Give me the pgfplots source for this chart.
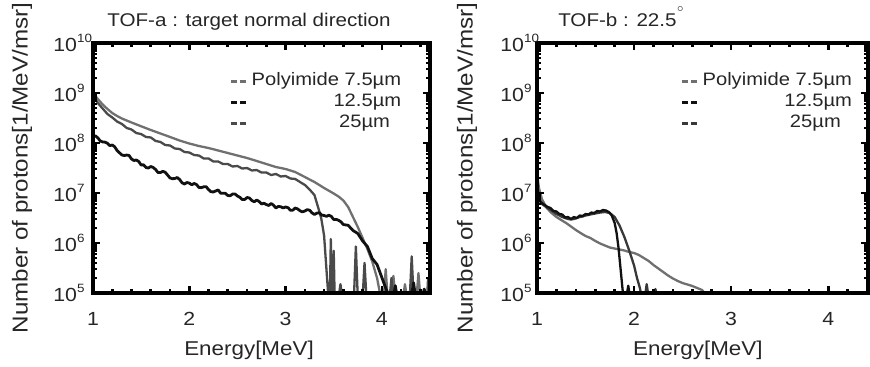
\documentclass[border=0pt]{standalone}
\usepackage{fontspec}
\setmainfont[FakeStretch=1.12]{Liberation Sans}
\usepackage{pgfplots}
\pgfplotsset{compat=1.18}
\definecolor{gA}{HTML}{707070}
\definecolor{gB}{HTML}{4A4A4A}
\definecolor{gC}{HTML}{111111}
\definecolor{gR}{HTML}{383838}
\definecolor{txt}{HTML}{262626}
\newcommand\tl[1]{10\raisebox{4.6pt}{\fontsize{6}{6}\selectfont #1}}
\pgfplotsset{
  myax/.style={
    scale only axis, height=125pt,
    ymin=1e5, ymax=1e10, xmin=1,
    axis on top, clip mode=individual,
    axis line style={line width=2pt, black},
    tick align=inside,
    major tick length=3.5pt, minor tick length=2pt,
    every tick/.style={black, line width=1.3pt},
    xtick={1,2,3,4}, xticklabels={1,2,3,4},
    minor xtick={1.2,1.4,1.6,1.8,2.2,2.4,2.6,2.8,3.2,3.4,3.6,3.8,4.2,4.4},
    ytick={1e5,1e6,1e7,1e8,1e9,1e10},
    yticklabels={\tl{5},\tl{6},\tl{7},\tl{8},\tl{9},\tl{10}},
    xticklabel style={font=\fontsize{9.5}{10}\selectfont, text=txt, yshift=-6pt},
    yticklabel style={font=\fontsize{9.5}{10}\selectfont, text=txt, anchor=west, inner sep=0pt},
    xlabel={Energy[MeV]},
    ylabel={Number of protons[1/MeV/msr]},
    xlabel style={font=\fontsize{10}{11}\selectfont, text=txt, anchor=base},
    ylabel style={font=\fontsize{10.8}{12}\selectfont, text=txt, anchor=center},
    legend cell align=right,
    legend style={draw=none, fill=none, anchor=north west, font=\fontsize{9}{10}\selectfont, text=txt,
      row sep=0.3pt, inner sep=0pt, nodes={inner sep=0.6pt, text height=6.6pt, text depth=2.4pt}},
    every axis plot/.append style={line width=1.15pt, line join=round},
  }
}
\pgfplotsset{legend image code/.code={\draw[#1, line width=1.4pt, dash pattern=on 3pt off 1.6pt] (0pt,0pt) -- (7.6pt,0pt);}}
\begin{document}
\begin{tikzpicture}
\useasboundingbox (0,0) rectangle (435pt,183pt);
% ---------------- left panel ----------------
\begin{semilogyaxis}[myax, at={(46.5pt,36.5pt)}, anchor=south west, width=168.5pt, xmax=4.5,
  yticklabel style={xshift=-20pt},
  xlabel style={at={(axis description cs:0.463,0)}, yshift=-31pt},
  ylabel style={at={(axis description cs:-0.2107,0.5)}},
  legend style={at={(rel axis cs:0.404,0.89)}},
]
\addlegendimage{gA}\addlegendentry{\,Polyimide 7.5µm}
\addlegendimage{gC}\addlegendentry{12.5µm}
\addlegendimage{gB}\addlegendentry{25µm\hphantom{5}}
% 7.5 um
\addplot[gA, forget plot] coordinates {
(1.00,1.0e9)(1.05,7.59e8)(1.10,5.89e8)(1.15,4.79e8)(1.20,3.98e8)(1.25,3.47e8)(1.30,3.09e8)
(1.40,2.57e8)(1.50,2.16e8)(1.60,1.82e8)(1.70,1.55e8)(1.80,1.32e8)(1.90,1.12e8)(2.00,9.77e7)
(2.10,8.71e7)(2.20,7.94e7)(2.30,7.08e7)(2.40,6.31e7)(2.50,5.62e7)(2.60,5.01e7)(2.70,4.37e7)
(2.80,3.80e7)(2.90,3.31e7)(3.00,3.02e7)(3.10,2.63e7)(3.20,2.09e7)(3.30,1.66e7)(3.40,1.26e7)
(3.50,9.77e6)(3.55,8.51e6)(3.60,7.08e6)(3.65,5.25e6)(3.70,3.31e6)(3.75,2.09e6)(3.80,1.26e6)
(3.85,7.59e5)(3.90,4.27e5)(3.95,2.00e5)(3.98,1.0e5)(4.00,8e4)(4.02,8e4)(4.04,3e5)(4.06,8e4)
(4.10,8e4)(4.12,2.2e5)(4.14,8e4)(4.22,8e4)(4.24,1.5e5)(4.26,8e4)(4.36,8e4)(4.38,2.5e5)(4.40,8e4)(4.50,8e4)
};
% 25 um
\addplot[gB, forget plot] coordinates {
(1.00,8.91e8)(1.05,6.31e8)(1.10,4.90e8)(1.15,3.80e8)(1.20,3.24e8)(1.25,2.69e8)(1.30,2.40e8)
(1.35,2.00e8)(1.40,1.86e8)(1.45,1.58e8)(1.50,1.51e8)(1.55,1.32e8)(1.60,1.29e8)(1.65,1.10e8)
(1.70,1.05e8)(1.75,9.12e7)(1.80,8.91e7)(1.85,7.76e7)(1.90,7.59e7)(1.95,6.61e7)(2.00,6.46e7)
(2.05,5.75e7)(2.10,5.62e7)(2.15,4.90e7)(2.20,4.90e7)(2.25,4.27e7)(2.30,4.27e7)(2.35,3.80e7)
(2.40,3.80e7)(2.45,3.39e7)(2.50,3.47e7)(2.55,3.09e7)(2.60,3.16e7)(2.65,2.82e7)(2.70,2.88e7)
(2.75,2.57e7)(2.80,2.57e7)(2.85,2.29e7)(2.90,2.40e7)(2.95,2.14e7)(3.00,2.19e7)(3.05,1.95e7)
(3.10,1.91e7)(3.15,1.66e7)(3.20,1.45e7)(3.25,1.17e7)(3.30,9.12e6)(3.34,5.01e6)(3.37,3.16e6)
(3.40,1.41e6)(3.42,3.98e5)(3.44,1.12e5)(3.45,8e4)(3.46,8e4)(3.47,1.2e6)(3.48,8e4)(3.49,8e4)
(3.50,7e5)(3.51,8e4)(3.55,8e4)(3.57,1.5e5)(3.59,8e4)(3.71,8e4)(3.73,8.5e5)(3.75,8e4)(3.80,8e4)
(3.82,4e5)(3.84,8e4)(4.08,8e4)(4.10,2e5)(4.12,8e4)(4.29,8e4)(4.31,5.4e5)(4.33,8e4)(4.47,8e4)
(4.48,2e5)(4.49,8e4)
};
% 12.5 um
\addplot[gC, forget plot, line width=1.4pt] coordinates {
(1.000,1.32e8)(1.025,1.39e8)(1.050,1.27e8)(1.075,1.10e8)(1.100,1.05e8)(1.125,1.04e8)
(1.150,9.89e7)(1.175,8.86e7)(1.200,9.12e7)(1.225,8.41e7)(1.250,7.08e7)(1.275,6.38e7)
(1.300,5.75e7)(1.325,5.62e7)(1.350,5.75e7)(1.375,5.62e7)(1.400,4.79e7)(1.425,4.47e7)
(1.450,4.57e7)(1.475,4.27e7)(1.500,3.63e7)(1.525,3.67e7)(1.550,3.24e7)(1.575,3.16e7)
(1.600,3.39e7)(1.625,3.24e7)(1.650,2.95e7)(1.675,2.57e7)(1.700,2.57e7)(1.725,2.71e7)
(1.750,2.60e7)(1.775,2.28e7)(1.800,2.00e7)(1.825,1.93e7)(1.850,1.95e7)(1.875,2.04e7)
(1.900,1.86e7)(1.925,1.60e7)(1.950,1.51e7)(1.975,1.62e7)(2.000,1.58e7)(2.025,1.46e7)
(2.050,1.55e7)(2.075,1.48e7)(2.100,1.29e7)(2.125,1.28e7)(2.150,1.33e7)(2.175,1.34e7)
(2.200,1.17e7)(2.225,1.06e7)(2.250,1.05e7)(2.275,1.10e7)(2.300,1.15e7)(2.325,9.94e6)
(2.350,9.89e6)(2.375,9.83e6)(2.400,8.91e6)(2.425,8.81e6)(2.450,9.55e6)(2.475,9.55e6)
(2.500,8.71e6)(2.525,8.22e6)(2.550,7.41e6)(2.575,7.41e6)(2.600,8.13e6)(2.625,7.94e6)
(2.650,7.08e6)(2.675,6.68e6)(2.700,7.24e6)(2.725,6.76e6)(2.750,6.03e6)(2.775,6.24e6)
(2.800,5.89e6)(2.825,5.62e6)(2.850,6.17e6)(2.875,5.69e6)(2.900,5.01e6)(2.925,5.40e6)
(2.950,5.31e6)(2.975,5.04e6)(3.000,5.25e6)(3.025,5.10e6)(3.050,4.52e6)(3.075,4.54e6)
(3.100,5.01e6)(3.125,4.81e6)(3.150,4.42e6)(3.175,4.19e6)(3.200,4.37e6)(3.225,4.65e6)
(3.250,4.52e6)(3.275,4.00e6)(3.300,3.72e6)(3.325,3.96e6)(3.350,4.03e6)(3.375,3.61e6)
(3.400,3.55e6)(3.425,3.41e6)(3.450,3.59e6)(3.475,3.41e6)(3.500,2.95e6)(3.525,2.97e6)
(3.550,2.85e6)(3.575,2.65e6)(3.600,2.34e6)(3.650,2.26e6)(3.700,1.78e6)(3.750,1.55e6)
(3.800,1.10e6)(3.850,8.51e5)(3.900,4.90e5)(3.950,3.72e5)(4.000,2.04e5)(4.050,1.12e5)(4.070,8e4)
(4.12,8e4)(4.14,1.4e5)(4.16,8e4)(4.30,8e4)(4.33,1.6e5)(4.35,8e4)(4.42,8e4)(4.44,1.2e5)(4.46,8e4)
};
\node[anchor=base, font=\fontsize{9.2}{10}\selectfont, text=txt, inner sep=0pt, yshift=8.4pt]
  at (rel axis cs:0.463,1) {TOF-a : target normal direction};
\end{semilogyaxis}
% ---------------- right panel ----------------
\begin{semilogyaxis}[myax, at={(268.5pt,36.5pt)}, anchor=south west, width=165.5pt, xmax=4.41,
  yticklabel style={xshift=-18.5pt},
  xlabel style={at={(axis description cs:0.486,0)}, yshift=-31pt},
  ylabel style={at={(axis description cs:-0.2115,0.5)}},
  legend style={at={(rel axis cs:0.432,0.89)}},
]
\addlegendimage{gA}\addlegendentry{\,Polyimide 7.5µm}
\addlegendimage{gC}\addlegendentry{12.5µm}
\addlegendimage{gR}\addlegendentry{25µm\hphantom{5}}
% 7.5 um
\addplot[gA, forget plot] coordinates {
(1.00,2.51e7)(1.02,1.26e7)(1.05,7.59e6)(1.10,5.01e6)(1.15,3.98e6)(1.20,3.31e6)(1.25,2.88e6)
(1.30,2.51e6)(1.35,2.14e6)(1.40,1.82e6)(1.45,1.58e6)(1.50,1.38e6)(1.55,1.26e6)(1.60,1.10e6)
(1.65,9.77e5)(1.70,8.91e5)(1.75,8.13e5)(1.80,7.76e5)(1.85,7.41e5)(1.90,7.08e5)(1.95,6.61e5)
(2.00,6.31e5)(2.05,5.75e5)(2.10,5.01e5)(2.15,4.37e5)(2.20,3.63e5)(2.25,3.09e5)(2.30,2.63e5)
(2.35,2.24e5)(2.40,1.95e5)(2.45,1.74e5)(2.50,1.58e5)(2.55,1.48e5)(2.60,1.38e5)(2.65,1.26e5)
(2.70,1.15e5)(2.75,8.9e4)(2.78,8e4)
};
% 25 um
\addplot[gR, forget plot] coordinates {
(1.00,1.58e7)(1.02,7.94e6)(1.05,6.03e6)(1.08,5.50e6)(1.11,5.01e6)(1.14,4.57e6)(1.17,4.17e6)
(1.20,3.80e6)(1.23,3.55e6)(1.26,3.31e6)(1.29,3.16e6)(1.32,3.02e6)(1.35,2.95e6)(1.38,3.02e6)
(1.41,3.16e6)(1.44,3.31e6)(1.47,3.39e6)(1.50,3.55e6)(1.55,3.72e6)(1.60,3.89e6)(1.65,4.07e6)
(1.70,4.17e6)(1.75,3.98e6)(1.80,3.31e6)(1.85,2.24e6)(1.90,1.32e6)(1.95,7.08e5)(2.00,3.55e5)
(2.03,2.00e5)(2.06,1.26e5)(2.08,8e4)(2.11,8e4)(2.13,1.5e5)(2.15,8e4)(2.20,8e4)(2.22,1.2e5)(2.24,8e4)
};
% 12.5 um
\addplot[gC, forget plot] coordinates {
(1.00,1.12e7)(1.02,7.08e6)(1.05,6.31e6)(1.08,5.75e6)(1.11,5.25e6)(1.14,5.01e6)(1.17,4.37e6)
(1.20,4.27e6)(1.23,3.80e6)(1.26,3.72e6)(1.29,3.24e6)(1.32,3.31e6)(1.35,3.02e6)(1.38,3.31e6)
(1.41,3.16e6)(1.44,3.55e6)(1.47,3.47e6)(1.50,3.80e6)(1.53,3.72e6)(1.56,4.07e6)(1.59,3.98e6)
(1.62,4.37e6)(1.65,4.27e6)(1.68,4.57e6)(1.71,4.47e6)(1.74,4.17e6)(1.77,3.55e6)(1.80,2.51e6)
(1.82,1.58e6)(1.84,7.94e5)(1.86,3.16e5)(1.88,1.26e5)(1.89,8e4)(1.92,8e4)(1.94,1.4e5)(1.96,8e4)
};
\node[anchor=base west, font=\fontsize{9.2}{10}\selectfont, text=txt, inner sep=0pt, yshift=8.4pt]
  at (rel axis cs:0.063,1) {TOF-b : 22.5\raisebox{5pt}{\fontsize{6}{6}\selectfont $^{\circ}$}};
\end{semilogyaxis}
\end{tikzpicture}
\end{document}
